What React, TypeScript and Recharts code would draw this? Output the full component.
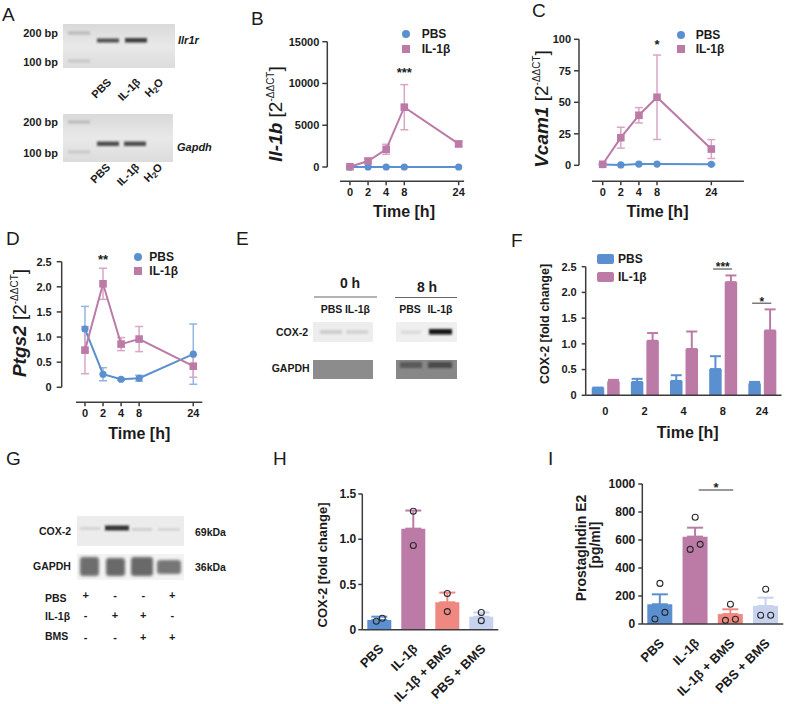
import React from 'react';
import {
  LineChart, Line, ComposedChart, Bar, Cell, Scatter, XAxis, YAxis,
  ErrorBar, ReferenceLine, ReferenceDot, Legend,
} from 'recharts';

const FONT = '"Liberation Sans", Arial, Helvetica, sans-serif';
const INK = '#1b1b1b';
const AXIS = '#3c3c3c';
const BLUE = '#5a8fd0';
const BLUE_ERR = '#92b5e3';
const MAUVE = '#bc7aa7';
const MAUVE_ERR = '#d9a6c6';
const SALMON = '#ee8880';
const LAVENDER = '#c7d2ee';

// ---- time course, panels B-D and F ----
const TIME_LABELS = ['0', '2', '4', '8', '24'];
// broken x axis in the original: 0/2/4/8 h evenly spaced, 24 h three steps past 8 h
const TIME_SLOTS = [0, 1, 2, 3, 6];

const IL1B_PBS = [1, 1, 1, 1, 1];
const IL1B_PBS_SD = [0, 0, 0, 0, 0];
const IL1B_IL = [30, 720, 2120, 7160, 2760];
const IL1B_IL_SD = [40, 280, 600, 2700, 300];

const VCAM_PBS = [0.6, 0.3, 1.0, 1.0, 0.8];
const VCAM_PBS_SD = [0.3, 0.2, 0.3, 0.2, 0.2];
const VCAM_IL = [0.8, 21.9, 39.7, 54, 12.9];
const VCAM_IL_SD = [0.5, 8.3, 6.1, 33.5, 7.5];

const PTGS2_PBS = [1.16, 0.26, 0.16, 0.18, 0.66];
const PTGS2_PBS_SD = [0.45, 0.13, 0.02, 0.06, 0.6];
const PTGS2_IL = [0.74, 2.06, 0.86, 0.96, 0.42];
const PTGS2_IL_SD = [0.47, 0.31, 0.13, 0.25, 0.22];

const COX_PBS = [0.14, 0.26, 0.28, 0.51, 0.23];
const COX_PBS_SD = [0.01, 0.06, 0.11, 0.25, 0.03];
const COX_IL = [0.27, 1.06, 0.9, 2.2, 1.26];
const COX_IL_SD = [0.03, 0.15, 0.34, 0.13, 0.41];

// ---- BMS experiment, panels H and I ----
const GROUPS = ['PBS', 'IL-1β', 'IL-1β + BMS', 'PBS + BMS'];
const GROUP_COLORS = [BLUE, MAUVE, SALMON, LAVENDER];
const H_MEAN = [0.107, 1.117, 0.303, 0.144];
const H_SEM = [0.037, 0.2, 0.107, 0.046];
const H_POINTS = [[0.094, 0.126], [1.31, 0.93], [0.4, 0.2], [0.19, 0.1]];
const I_MEAN = [141, 624, 71, 129];
const I_SEM = [71, 64, 34, 59];
const I_POINTS = [[290, 36, 83], [762, 533, 569], [141, 26, 34], [248, 62, 62]];

// western blot G treatment table
const G_PBS = ['+', '-', '-', '+'];
const G_IL = ['-', '+', '+', '-'];
const G_BMS = ['-', '-', '+', '+'];

type Box = { left: number; top: number; w: number; h: number };
type Rect = { x0: number; y0: number; x1: number; y1: number };

const marginFor = (o: Box, p: Rect, yW: number, xH: number) => ({
  top: p.y0 - o.top,
  left: p.x0 - o.left - yW,
  right: o.left + o.w - p.x1,
  bottom: o.top + o.h - p.y1 - xH,
});

const tickFont = (size: number) => ({ fontSize: size, fontWeight: 700, fill: INK, fontFamily: FONT });
const slotLabel = (v: number) => TIME_LABELS[TIME_SLOTS.indexOf(v)] ?? '';
const dec1 = (v: number) => (v === 0 ? '0' : v.toFixed(1));

const timeRows = (pbs: number[], pbsSd: number[], il: number[], ilSd: number[]) =>
  TIME_LABELS.map((label, i) => ({ slot: TIME_SLOTS[i], label, pbs: pbs[i], pbsSd: pbsSd[i], il: il[i], ilSd: ilSd[i] }));

// spread points that sit on (nearly) the same value side by side
const dodge = (vals: number[], tol: number) =>
  vals.map((v, j) => {
    const near = vals.map((w, k) => ({ w, k })).filter((o) => Math.abs(o.w - v) < tol);
    if (near.length < 2) return 0;
    return near.findIndex((o) => o.k === j) - (near.length - 1) / 2;
  });

type KeyItem = { label: string; color: string; mark: 'circle' | 'square' | 'swatch' };

const Key = ({ items, gap, rowGap }: { items: KeyItem[]; gap: number; rowGap: number }) => (
  <div style={{ fontFamily: FONT, fontWeight: 700, fontSize: 12, color: INK }}>
    {items.map((it, i) => {
      const mw = it.mark === 'swatch' ? 17 : 10;
      return (
        <div key={it.label} style={{ display: 'flex', alignItems: 'center', height: 14, marginTop: i ? rowGap : 0 }}>
          <svg width={mw} height={14} style={{ display: 'block' }}>
            {it.mark === 'circle' && <circle cx={5} cy={7} r={4} fill={it.color} />}
            {it.mark === 'square' && <rect x={1} y={3} width={8} height={8} fill={it.color} />}
            {it.mark === 'swatch' && <rect x={0} y={2} width={17} height={10} rx={2} fill={it.color} />}
          </svg>
          <span style={{ marginLeft: gap, whiteSpace: 'nowrap', lineHeight: '14px' }}>{it.label}</span>
        </div>
      );
    })}
  </div>
);

const SquareDot = (p: any) => (
  <rect key={`sq-${p.index}`} x={p.cx - 3.8} y={p.cy - 3.8} width={7.6} height={7.6} fill={MAUVE} />
);

const sigLabel = (mark: string, size: number) => ({
  value: mark, position: 'center' as const, fill: INK, fontSize: size, fontWeight: 700, fontFamily: FONT,
});

type TimeProps = {
  rows: any[]; outer: Box; plot: Rect; yDomain: [number, number]; yTicks: number[];
  xDomain: [number, number]; xSpan: [number, number];
  legend: { x: number; y: number; gap: number; rowGap: number };
  sig: { slot: number; y: number; mark: string };
  yFmt?: (v: number) => string; yTickMargin?: number;
};

function TimeCourse(props: TimeProps) {
  const { rows, outer, plot, yDomain, yTicks, xDomain, xSpan, legend, sig, yFmt, yTickMargin = 3 } = props;
  const yW = 44;
  const xH = 22;
  const top = yTicks[yTicks.length - 1];
  return (
    <div style={{ position: 'absolute', left: outer.left, top: outer.top, fontFamily: FONT }}>
      <LineChart width={outer.w} height={outer.h} data={rows} margin={marginFor(outer, plot, yW, xH)}>
        <XAxis
          dataKey="slot" type="number" domain={xDomain} allowDataOverflow ticks={TIME_SLOTS}
          tickFormatter={slotLabel} interval={0} axisLine={false}
          tickLine={{ stroke: AXIS, strokeWidth: 1.5 }} tickSize={4} tickMargin={3} height={xH} tick={tickFont(11)}
        />
        <YAxis
          type="number" domain={yDomain} allowDataOverflow ticks={yTicks} tickFormatter={yFmt} interval={0}
          axisLine={false} tickLine={{ stroke: AXIS, strokeWidth: 1.5 }} tickSize={5} tickMargin={yTickMargin}
          width={yW} tick={tickFont(11)}
        />
        <ReferenceLine
          segment={[{ x: xDomain[0], y: 0 }, { x: xDomain[0], y: top }]}
          stroke={AXIS} strokeWidth={1.5} ifOverflow="visible"
        />
        <ReferenceLine
          segment={[{ x: xSpan[0], y: yDomain[0] }, { x: xSpan[1], y: yDomain[0] }]}
          stroke={AXIS} strokeWidth={1.5} ifOverflow="visible"
        />
        <Line dataKey="pbs" stroke={BLUE} strokeWidth={2} dot={{ r: 3.6, fill: BLUE, stroke: 'none' }} activeDot={false} isAnimationActive={false}>
          <ErrorBar dataKey="pbsSd" width={4} stroke={BLUE_ERR} strokeWidth={1.5} direction="y" />
        </Line>
        <Line dataKey="il" stroke={MAUVE} strokeWidth={2} dot={SquareDot} activeDot={false} isAnimationActive={false}>
          <ErrorBar dataKey="ilSd" width={4} stroke={MAUVE_ERR} strokeWidth={1.5} direction="y" />
        </Line>
        <ReferenceDot x={sig.slot} y={sig.y} r={0} fill="none" stroke="none" ifOverflow="visible" label={sigLabel(sig.mark, 13)} />
        <Legend
          layout="vertical" align="center" verticalAlign="middle"
          wrapperStyle={{ left: legend.x - outer.left, top: legend.y - outer.top, width: 'auto' }}
          content={() => (
            <Key
              gap={legend.gap} rowGap={legend.rowGap}
              items={[{ label: 'PBS', color: BLUE, mark: 'circle' }, { label: 'IL-1β', color: MAUVE, mark: 'square' }]}
            />
          )}
        />
      </LineChart>
    </div>
  );
}

const F_SIG = [
  { at: 3, y: 2.455, star: 2.5, mark: '***' },
  { at: 4, y: 1.79, star: 1.82, mark: '*' },
];

function CoxTimeBars() {
  const outer = { left: 505, top: 240, w: 282, h: 205 };
  const plot = { x0: 585.7, y0: 266.7, x1: 781.5, y1: 395.3 };
  const rows = TIME_LABELS.map((label, i) => ({
    idx: i, label, pbs: COX_PBS[i], pbsSd: [0, COX_PBS_SD[i]], il: COX_IL[i], ilSd: [0, COX_IL_SD[i]],
  }));
  return (
    <div style={{ position: 'absolute', left: outer.left, top: outer.top, fontFamily: FONT }}>
      <ComposedChart width={outer.w} height={outer.h} data={rows} margin={marginFor(outer, plot, 44, 24)} barGap={3}>
        <XAxis dataKey="label" interval={0} axisLine={{ stroke: AXIS, strokeWidth: 1.5 }} tickLine={false} tickSize={4} tickMargin={8} height={24} tick={tickFont(11)} />
        <XAxis xAxisId="n" dataKey="idx" type="number" domain={[-0.5, 4.5]} allowDataOverflow hide />
        <YAxis
          type="number" domain={[0, 2.5]} ticks={[0, 0.5, 1, 1.5, 2, 2.5]} tickFormatter={dec1} interval={0}
          axisLine={{ stroke: AXIS, strokeWidth: 1.5 }} tickLine={{ stroke: AXIS, strokeWidth: 1.5 }}
          tickSize={4} tickMargin={5} width={44} tick={tickFont(11)}
        />
        <Bar dataKey="pbs" fill={BLUE} barSize={12.5} isAnimationActive={false}>
          <ErrorBar dataKey="pbsSd" width={5.5} stroke={BLUE} strokeWidth={2} direction="y" />
        </Bar>
        <Bar dataKey="il" fill={MAUVE} barSize={12.5} isAnimationActive={false}>
          <ErrorBar dataKey="ilSd" width={5.5} stroke={MAUVE} strokeWidth={2} direction="y" />
        </Bar>
        {F_SIG.map((s) => (
          <ReferenceLine
            key={`l${s.at}`} xAxisId="n" segment={[{ x: s.at - 0.25, y: s.y }, { x: s.at + 0.24, y: s.y }]}
            stroke="#666" strokeWidth={1.3} ifOverflow="visible"
          />
        ))}
        {F_SIG.map((s) => (
          <ReferenceDot key={`d${s.at}`} xAxisId="n" x={s.at} y={s.star} r={0} fill="none" stroke="none" ifOverflow="visible" label={sigLabel(s.mark, 12)} />
        ))}
        <Legend
          layout="vertical" align="center" verticalAlign="middle"
          wrapperStyle={{ left: 92, top: 12, width: 'auto' }}
          content={() => (
            <Key gap={4} rowGap={4} items={[{ label: 'PBS', color: BLUE, mark: 'swatch' }, { label: 'IL-1β', color: MAUVE, mark: 'swatch' }]} />
          )}
        />
      </ComposedChart>
    </div>
  );
}

// category label rotated 45° upward, anchored at its end just right of the tick
const GroupTick = (p: any) => {
  const x = p.x + 5;
  const y = p.y + 12;
  return (
    <g transform={`translate(${x} ${y}) rotate(-45)`}>
      <text x={0} y={0} textAnchor="end" fontSize={13} fontWeight={700} fill={INK} fontFamily={FONT}>
        {p.payload.value}
      </text>
    </g>
  );
};

type GroupProps = {
  outer: Box; plot: Rect; means: number[]; sems: number[]; points: number[][];
  yMax: number; yTicks: number[]; yFmt: (v: number) => string; barSize: number; cap: number; spread: number;
  tickSize: number; tickMargin: number; sig?: { from: number; to: number; y: number; star: number; mark: string };
};

function GroupBars(props: GroupProps) {
  const { outer, plot, means, sems, points, yMax, yTicks, yFmt, barSize, cap, spread, tickSize, tickMargin, sig } = props;
  const rows = GROUPS.map((group, i) => {
    const r: any = { group, mean: means[i] };
    r[`e${i}`] = [0, sems[i]];
    return r;
  });
  const pts = points.flatMap((vals, gi) => {
    const d = dodge(vals, yMax * 0.05);
    return vals.map((v, j) => ({ gx: gi, v, dx: d[j] }));
  });
  return (
    <div style={{ position: 'absolute', left: outer.left, top: outer.top, fontFamily: FONT }}>
      <ComposedChart width={outer.w} height={outer.h} data={rows} margin={marginFor(outer, plot, 44, 70)}>
        <XAxis dataKey="group" interval={0} axisLine={{ stroke: AXIS, strokeWidth: 1.5 }} tickLine={false} height={70} tick={GroupTick} />
        <XAxis xAxisId="n" dataKey="gx" type="number" domain={[-0.5, 3.5]} allowDataOverflow hide />
        <YAxis
          type="number" domain={[0, yMax]} ticks={yTicks} tickFormatter={yFmt} interval={0}
          axisLine={{ stroke: AXIS, strokeWidth: 1.5 }} tickLine={{ stroke: AXIS, strokeWidth: 1.5 }}
          tickSize={tickSize} tickMargin={tickMargin} width={44} tick={tickFont(12)}
        />
        <Bar dataKey="mean" barSize={barSize} isAnimationActive={false}>
          {GROUP_COLORS.map((c, i) => <Cell key={`c${i}`} fill={c} />)}
          {GROUP_COLORS.map((c, i) => (
            <ErrorBar key={`e${i}`} dataKey={`e${i}`} width={cap} stroke={c} strokeWidth={2} direction="y" />
          ))}
        </Bar>
        <Scatter
          data={pts} dataKey="v" xAxisId="n" isAnimationActive={false}
          shape={(s: any) => (
            <circle cx={s.cx + s.payload.dx * spread} cy={s.cy} r={3} fill="none" stroke="#2a2a2a" strokeWidth={1.1} />
          )}
        />
        {sig && (
          <ReferenceLine
            xAxisId="n" segment={[{ x: sig.from, y: sig.y }, { x: sig.to, y: sig.y }]}
            stroke="#777" strokeWidth={1.5} ifOverflow="visible"
          />
        )}
        {sig && (
          <ReferenceDot xAxisId="n" x={(sig.from + sig.to) / 2} y={sig.star} r={0} fill="none" stroke="none" ifOverflow="visible" label={sigLabel(sig.mark, 13)} />
        )}
      </ComposedChart>
    </div>
  );
}

const bold = { fontWeight: 700 } as const;

// gel lane label, rotated 45° upward and anchored at its end
const Slant = ({ x, y, children }: { x: number; y: number; children: React.ReactNode }) => (
  <g transform={`translate(${x} ${y}) rotate(-45)`}>
    <text x={0} y={0} textAnchor="end" fontSize={11} fontWeight={700}>{children}</text>
  </g>
);

function Overlay() {
  const lanes = [85.7, 115, 143.3, 172.3];
  return (
    <svg width={787} height={704} style={{ position: 'absolute', left: 0, top: 0, pointerEvents: 'none' }} fontFamily={FONT} fill={INK}>
      <defs>
        <filter id="soft" x="-30%" y="-100%" width="160%" height="300%"><feGaussianBlur stdDeviation="1" /></filter>
        <filter id="soft2" x="-30%" y="-50%" width="160%" height="200%"><feGaussianBlur stdDeviation="1.8" /></filter>
        <linearGradient id="gel" x1="0" y1="0" x2="0" y2="1">
          <stop offset="0" stopColor="#d9d9d9" />
          <stop offset="0.5" stopColor="#e9e9e9" />
          <stop offset="1" stopColor="#dcdcdc" />
        </linearGradient>
      </defs>

      {/* panel letters */}
      <g fontSize={19}>
        <text x={2} y={21}>A</text>
        <text x={251} y={25}>B</text>
        <text x={532} y={17}>C</text>
        <text x={6} y={245}>D</text>
        <text x={236} y={245}>E</text>
        <text x={511} y={247}>F</text>
        <text x={6} y={465}>G</text>
        <text x={273} y={465}>H</text>
        <text x={548} y={465}>I</text>
      </g>

      {/* A: RT-PCR gels */}
      <rect x={63} y={24} width={112} height={44} fill="url(#gel)" />
      <rect x={68} y={31.5} width={22} height={3} fill="#b7b7b7" filter="url(#soft)" />
      <rect x={68} y={59.5} width={22} height={3} fill="#c6c6c6" filter="url(#soft)" />
      <rect x={97} y={38.5} width={22} height={4} fill="#505050" filter="url(#soft)" />
      <rect x={125} y={38} width={22} height={4.5} fill="#3e3e3e" filter="url(#soft)" />
      <rect x={63} y={114} width={110} height={48} fill="url(#gel)" />
      <rect x={68} y={120.5} width={22} height={3} fill="#b9b9b9" filter="url(#soft)" />
      <rect x={68} y={150.5} width={22} height={3} fill="#c8c8c8" filter="url(#soft)" />
      <rect x={97} y={141.5} width={22} height={4.5} fill="#4e4e4e" filter="url(#soft)" />
      <rect x={124} y={141.5} width={22} height={4.5} fill="#4e4e4e" filter="url(#soft)" />
      <g fontSize={11} {...bold}>
        <text x={58} y={37} textAnchor="end">200 bp</text>
        <text x={58} y={66} textAnchor="end">100 bp</text>
        <text x={58} y={126} textAnchor="end">200 bp</text>
        <text x={58} y={157} textAnchor="end">100 bp</text>
        <text x={178} y={44} fontStyle="italic">Ilr1r</text>
        <text x={177} y={151} fontStyle="italic">Gapdh</text>
      </g>
      <Slant x={112} y={83}>PBS</Slant>
      <Slant x={141} y={83}>IL-1β</Slant>
      <Slant x={164} y={83}>H<tspan fontSize={8} dy={2}>2</tspan><tspan dy={-2}>O</tspan></Slant>
      <Slant x={111} y={168}>PBS</Slant>
      <Slant x={140} y={168}>IL-1β</Slant>
      <Slant x={163} y={168}>H<tspan fontSize={8} dy={2}>2</tspan><tspan dy={-2}>O</tspan></Slant>

      {/* axis titles */}
      <g fontSize={19}>
        <text transform="translate(282,114) rotate(-90)" textAnchor="middle">
          <tspan fontStyle="italic" {...bold}>Il-1b</tspan> [2<tspan fontSize={10} dy={-8}>-ΔΔCT</tspan><tspan dy={8}>]</tspan>
        </text>
        <text transform="translate(548,109) rotate(-90)" textAnchor="middle">
          <tspan fontStyle="italic" {...bold}>Vcam1</tspan> [2<tspan fontSize={10} dy={-8}>-ΔΔCT</tspan><tspan dy={8}>]</tspan>
        </text>
        <text transform="translate(26,323) rotate(-90)" textAnchor="middle">
          <tspan fontStyle="italic" {...bold}>Ptgs2</tspan> [2<tspan fontSize={10} dy={-8}>-ΔΔCT</tspan><tspan dy={8}>]</tspan>
        </text>
      </g>
      <g fontSize={16} {...bold} textAnchor="middle">
        <text x={404} y={217}>Time [h]</text>
        <text x={657.5} y={217}>Time [h]</text>
        <text x={139.3} y={439}>Time [h]</text>
        <text x={687.7} y={438}>Time [h]</text>
      </g>
      <g {...bold} textAnchor="middle">
        <text fontSize={12.5} transform="translate(549,324) rotate(-90)">COX-2 [fold change]</text>
        <text fontSize={13} transform="translate(327,565) rotate(-90)">COX-2 [fold change]</text>
        <text fontSize={14} transform="translate(586,548) rotate(-90)">Prostaglndin E2</text>
        <text fontSize={14} transform="translate(600,545) rotate(-90)">[pg/ml]</text>
      </g>

      {/* E: western blot, time course */}
      <g {...bold}>
        <text x={350} y={288} fontSize={14} textAnchor="middle">0 h</text>
        <text x={427} y={292} fontSize={14} textAnchor="middle">8 h</text>
        <line x1={314} y1={297} x2={377} y2={297} stroke="#666" strokeWidth={1.2} />
        <line x1={395} y1={297.5} x2={457} y2={297.5} stroke="#666" strokeWidth={1.2} />
        <g fontSize={10.5} textAnchor="middle">
          <text x={331.5} y={313}>PBS</text>
          <text x={357.5} y={313}>IL-1β</text>
          <text x={410} y={313}>PBS</text>
          <text x={440} y={313}>IL-1β</text>
        </g>
        <text x={276} y={335.5} fontSize={10.5}>COX-2</text>
        <text x={271.7} y={372} fontSize={10.5}>GAPDH</text>
      </g>
      <rect x={313} y={322} width={60} height={20} fill="#ededed" />
      <rect x={396} y={322} width={61} height={20} fill="#efefef" />
      <rect x={320} y={330} width={22} height={4} fill="#cdcdcd" filter="url(#soft)" />
      <rect x={346} y={330} width={22} height={4} fill="#d3d3d3" filter="url(#soft)" />
      <rect x={401} y={330.5} width={20} height={3.5} fill="#dadada" filter="url(#soft)" />
      <rect x={429} y={329} width={23} height={5.5} fill="#151515" filter="url(#soft)" />
      <rect x={313} y={360} width={60} height={19} fill="#8c8c8c" />
      <rect x={396} y={360} width={61} height={19} fill="#878787" />
      <rect x={400} y={362} width={22} height={6} fill="#5a5a5a" filter="url(#soft)" />
      <rect x={428} y={362} width={24} height={6} fill="#4c4c4c" filter="url(#soft)" />

      {/* G: western blot, BMS */}
      <rect x={77} y={516} width={107} height={30} fill="#ececec" />
      <rect x={80} y={527} width={20} height={3} fill="#d4d4d4" filter="url(#soft)" />
      <rect x={105} y={525.5} width={24} height={5} fill="#333" filter="url(#soft)" />
      <rect x={132} y={528} width={20} height={3} fill="#cfcfcf" filter="url(#soft)" />
      <rect x={158} y={528} width={22} height={3} fill="#d5d5d5" filter="url(#soft)" />
      <rect x={77} y={554} width={107} height={26} fill="#f3f3f3" />
      <rect x={80} y={557} width={19} height={19} rx={3} fill="#6e6e6e" filter="url(#soft2)" />
      <rect x={106} y={558} width={19} height={18} rx={3} fill="#696969" filter="url(#soft2)" />
      <rect x={131} y={557} width={22} height={19} rx={3} fill="#696969" filter="url(#soft2)" />
      <rect x={157} y={560} width={24} height={14} rx={3} fill="#767676" filter="url(#soft2)" />
      <g {...bold} fontSize={10.5}>
        <text x={39} y={535}>COX-2</text>
        <text x={33} y={570}>GAPDH</text>
        <text x={195} y={536}>69kDa</text>
        <text x={195} y={571}>36kDa</text>
        <text x={45} y={602}>PBS</text>
        <text x={45} y={620}>IL-1β</text>
        <text x={45} y={640}>BMS</text>
        <g textAnchor="middle" fontSize={11}>
          {G_PBS.map((s, i) => <text key={`p${i}`} x={lanes[i]} y={599}>{s}</text>)}
          {G_IL.map((s, i) => <text key={`i${i}`} x={lanes[i]} y={619}>{s}</text>)}
          {G_BMS.map((s, i) => <text key={`b${i}`} x={lanes[i]} y={641}>{s}</text>)}
        </g>
      </g>
    </svg>
  );
}

export default function App() {
  return (
    <div style={{ position: 'absolute', left: 0, top: 0, width: 787, height: 704, background: '#fff', overflow: 'hidden', fontFamily: FONT }}>
      <TimeCourse
        rows={timeRows(IL1B_PBS, IL1B_PBS_SD, IL1B_IL, IL1B_IL_SD)}
        outer={{ left: 232, top: 0, w: 250, h: 215 }}
        plot={{ x0: 327.3, y0: 41.7, x1: 464.1, y1: 181.3 }}
        yDomain={[-1712, 15000]} yTicks={[0, 5000, 10000, 15000]}
        xDomain={[-1.25, 6.3]} xSpan={[-0.55, 6.3]}
        legend={{ x: 400.7, y: 27, gap: 11, rowGap: 1 }}
        sig={{ slot: 3, y: 11290, mark: '***' }}
      />
      <TimeCourse
        rows={timeRows(VCAM_PBS, VCAM_PBS_SD, VCAM_IL, VCAM_IL_SD)}
        outer={{ left: 492, top: 0, w: 290, h: 215 }}
        plot={{ x0: 579, y0: 39.3, x1: 743.9, y1: 181.3 }}
        yDomain={[-12.7, 100]} yTicks={[0, 25, 50, 75, 100]}
        xDomain={[-1.31, 7.8]} xSpan={[-0.59, 7.8]}
        legend={{ x: 675.7, y: 28, gap: 10, rowGap: 0 }}
        sig={{ slot: 3, y: 95.7, mark: '*' }}
      />
      <TimeCourse
        rows={timeRows(PTGS2_PBS, PTGS2_PBS_SD, PTGS2_IL, PTGS2_IL_SD)}
        outer={{ left: 0, top: 235, w: 230, h: 200 }}
        plot={{ x0: 61.7, y0: 261.7, x1: 202.3, y1: 402.3 }}
        yDomain={[-0.2986, 2.5]} yTicks={[0, 0.5, 1, 1.5, 2, 2.5]} yFmt={dec1} yTickMargin={5}
        xDomain={[-1.29, 6.5]} xSpan={[-0.5, 6.5]}
        legend={{ x: 133.3, y: 249.7, gap: 6, rowGap: 0 }}
        sig={{ slot: 1, y: 2.546, mark: '**' }}
      />
      <CoxTimeBars />
      <GroupBars
        outer={{ left: 290, top: 470, w: 215, h: 234 }}
        plot={{ x0: 362.3, y0: 494, x1: 498.3, y1: 629.7 }}
        means={H_MEAN} sems={H_SEM} points={H_POINTS}
        yMax={1.5} yTicks={[0, 0.5, 1, 1.5]} yFmt={dec1}
        barSize={24} cap={8} spread={6} tickSize={4} tickMargin={2}
      />
      <GroupBars
        outer={{ left: 565, top: 470, w: 222, h: 234 }}
        plot={{ x0: 642.3, y0: 484, x1: 783.3, y1: 624 }}
        means={I_MEAN} sems={I_SEM} points={I_POINTS}
        yMax={1000} yTicks={[0, 200, 400, 600, 800, 1000]} yFmt={(v) => String(v)}
        barSize={25} cap={8} spread={10} tickSize={4} tickMargin={3}
        sig={{ from: 1.1, to: 2.08, y: 957, star: 974, mark: '*' }}
      />
      <Overlay />
    </div>
  );
}
